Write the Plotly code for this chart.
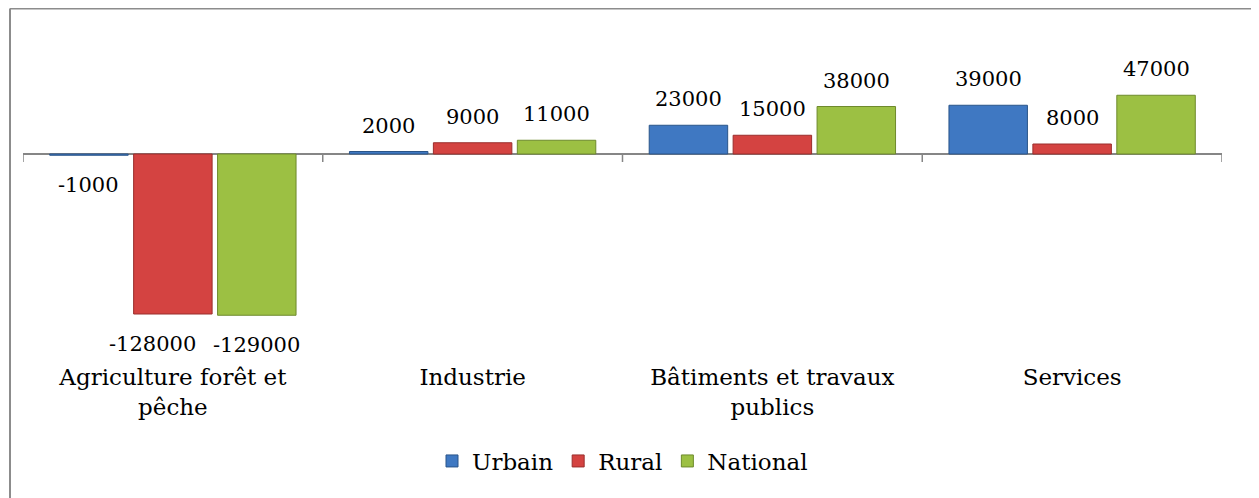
import plotly.graph_objects as go

categories = ["Agriculture forêt et<br>pêche", "Industrie", "Bâtiments et travaux<br>publics", "Services"]
series_names = ["Urbain", "Rural", "National"]
urbain = [-1000, 2000, 23000, 39000]
rural = [-128000, 9000, 15000, 8000]
national = [-129000, 11000, 38000, 47000]

colors = ["#3F78C2", "#D44341", "#9CC043"]
edges = ["#2A5589", "#9A2E2C", "#6E8A2C"]

OFF = 8  # page body margin
W, H = 1259 - OFF, 498 - OFF
PB = 361  # bottom of plot area (page px)
ML, MR, MT = 23 - OFF, 37, 20 - OFF
MB = H - (PB - OFF)
FONT = "DejaVu Serif"
FS = 23      # category / legend text
FS_VAL = 21  # value labels
BARGAP, GROUPGAP = 0.16, 0.065
PX_PER_UNIT = 1.25 / 1000
ZERO_Y = 154

fig = go.Figure()
for name, vals, c, e in zip(series_names, [urbain, rural, national], colors, edges):
    fig.add_trace(go.Bar(
        x=categories, y=vals, name=name,
        marker=dict(color=c, line=dict(color=e, width=1)),
    ))

# value labels, placed above/below each bar
plot_w = W - ML - MR
slot = plot_w / len(categories) * (1 - BARGAP) / len(series_names)
nudge = {(1, 0): -20}  # Rural / Agriculture label pushed left to avoid overlap
annotations = []
for k, vals in enumerate([urbain, rural, national]):
    for j, (cat, v) in enumerate(zip(categories, vals)):
        annotations.append(dict(
            x=cat, y=v, xref="x", yref="y", text=str(v), showarrow=False,
            xshift=(k - 1) * slot + nudge.get((k, j), 0),
            yshift=26 if v >= 0 else -30,
            yanchor="middle", font=dict(family=FONT, size=FS_VAL, color="black"),
        ))

# category separator ticks on the zero line
shapes = []
for i in range(len(categories) + 1):
    shapes.append(dict(
        type="line", xref="x", yref="y", ysizemode="pixel", yanchor=0,
        x0=i - 0.5, x1=i - 0.5, y0=0, y1=-8,
        line=dict(color="#868686", width=1.5),
    ))

# chart frame (top and left edges visible)
plot_h = H - MT - MB
def px(x):
    return (x - OFF - ML) / plot_w
def py(y):
    return (H - MB - (y - OFF)) / plot_h
shapes.append(dict(type="line", xref="paper", yref="paper",
                   x0=px(10), x1=px(1270), y0=py(8.5), y1=py(8.5),
                   line=dict(color="#8C8C8C", width=2)))
shapes.append(dict(type="line", xref="paper", yref="paper",
                   x0=px(10), x1=px(10), y0=py(8.5), y1=py(510),
                   line=dict(color="#8C8C8C", width=2)))

y_top = (ZERO_Y - (MT + OFF)) / PX_PER_UNIT
y_bot = -(PB - ZERO_Y) / PX_PER_UNIT

fig.update_layout(
    width=W, height=H,
    margin=dict(l=ML, r=MR, t=MT, b=MB, autoexpand=False),
    barmode="group", bargap=BARGAP, bargroupgap=GROUPGAP,
    plot_bgcolor="white", paper_bgcolor="white",
    font=dict(family=FONT, size=FS, color="black"),
    xaxis=dict(showline=False, showgrid=False, ticks="", range=[-0.5, 3.5],
               tickfont=dict(family=FONT, size=FS, color="black")),
    yaxis=dict(range=[y_bot, y_top], showgrid=False, showticklabels=False,
               zeroline=True, zerolinecolor="#868686", zerolinewidth=1.5),
    legend=dict(orientation="h", x=0.5, xanchor="center", y=py(461), yanchor="middle",
                font=dict(family=FONT, size=FS), itemwidth=30, tracegroupgap=0),
    annotations=annotations,
    shapes=shapes,
)

fig.write_html("out.html")
